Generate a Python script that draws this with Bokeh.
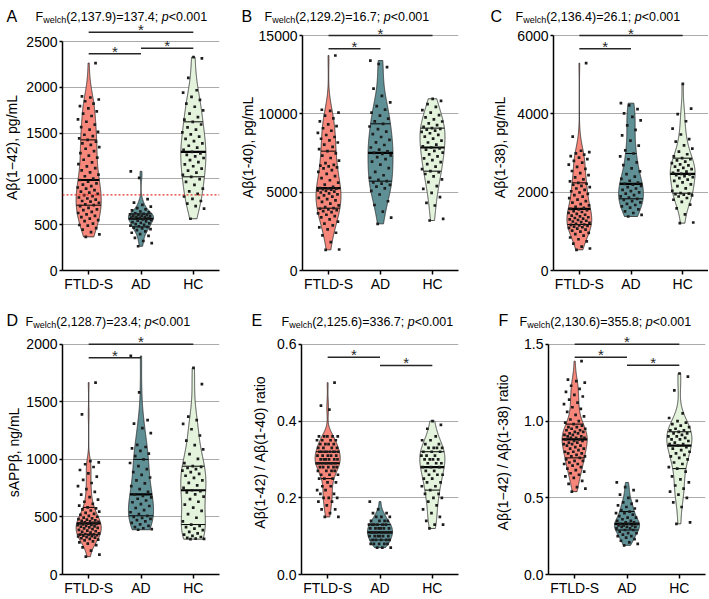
import numpy as np
from bokeh.plotting import figure
from bokeh.models import Span, FixedTicker, Range1d, NumeralTickFormatter
from bokeh.layouts import column, row
from bokeh.embed import file_html
from bokeh.resources import INLINE
from bokeh.core.properties import value

FONT = "Liberation Sans"
GROUPS = ["FTLD-S", "AD", "HC"]
GROUP_COLORS = ["#F7877B", "#5F9096", "#E3F3DC"]

# ---------------- Panel A: Abeta(1-42), pg/mL ----------------
A_FTLD = [367, 395, 418, 446, 462, 489, 497, 512, 538, 551, 566, 583, 597, 612, 628, 641, 659, 668, 684, 702, 713,
          722, 738, 751, 759, 774, 786, 797, 812, 823, 836, 851, 862, 877, 893, 906, 921, 937, 952, 969, 988,
          1004, 1029, 1046, 1071, 1093, 1118, 1137, 1162, 1181, 1209, 1232, 1254, 1281, 1303, 1329, 1348, 1371, 1389, 1407, 1426,
          1443, 1468, 1482, 1513, 1537, 1566, 1592, 1624, 1651, 1687, 1712, 1738, 1769, 1794, 1822, 1848, 1867, 1889, 1902, 2265]
A_AD = [265, 298, 322, 356, 379, 398, 412, 428, 441, 452, 461, 469, 476,
        483, 491, 499, 506, 514, 521, 528, 536, 543, 551, 558, 565,
        569, 574, 578, 583, 587, 591, 596, 600, 605, 609, 613, 618,
        625, 634, 644, 656, 668, 681, 697, 716, 742, 779, 1012, 1083]
A_HC = [565, 676, 702, 731, 759, 781, 808, 836, 864, 893, 934, 968, 997, 1023,
        1044, 1069, 1091, 1112, 1138, 1159, 1183, 1204, 1228, 1247, 1262, 1279, 1295,
        1318, 1341, 1362, 1389, 1412, 1438, 1461, 1486, 1509, 1537, 1562, 1594, 1623,
        1648, 1675, 1712, 1749, 1788, 1822, 1863, 1895, 1942, 1968, 2104, 2316, 2329]
A_YTICKS = [0, 500, 1000, 1500, 2000, 2500]
A_SIG_FROM = [1, 1, 2]
A_SIG_TO = [3, 2, 3]
A_SIG_Y = [2600, 2366, 2426]
A_CUTOFF = 825
A_STAT = "(2,137.9)=137.4; "
A_YLABEL = "A\u03b2(1\u221242), pg/mL"

# ---------------- Panel B: Abeta(1-40), pg/mL ----------------
B_FTLD = [1319, 1342, 1810, 2240, 2410, 2620, 2750, 2880, 2990, 3120, 3260, 3390, 3470, 3560, 3640, 3720, 3790, 3850, 3900, 3940, 3979,
          4050, 4160, 4270, 4380, 4470, 4560, 4640, 4720, 4790, 4860, 4920, 4980, 5030, 5080, 5120, 5160, 5190, 5220, 5240, 5256,
          5340, 5480, 5610, 5760, 5890, 6030, 6170, 6290, 6410, 6520, 6580, 6640, 6690, 6740, 6860, 7010, 7180, 7330, 7470, 7618,
          7750, 7890, 8030, 8170, 8300, 8410, 8520, 8650, 8790, 8920, 9080, 9210, 9330, 9520, 9710, 9890, 10080, 10190, 10260, 13725]
B_AD = [2979, 3380, 3760, 4180, 4420, 4850, 5080, 5240, 5360, 5460, 5550, 5630, 5703,
        5790, 5920, 6080, 6290, 6530, 6760, 6950, 7110, 7240, 7350, 7440, 7512,
        7600, 7720, 7850, 8010, 8180, 8340, 8520, 8700, 8860, 9020, 9190, 9363,
        9520, 9700, 9890, 10080, 10270, 10490, 10730, 11140, 11610, 12980, 13180, 13400]
B_HC = [3192, 3298, 4150, 4320, 4682, 4950, 5213, 5390, 5639, 5820, 6010, 6160, 6270, 6341,
        6470, 6630, 6790, 6920, 7040, 7160, 7290, 7410, 7520, 7630, 7710, 7790, 7852,
        7930, 8040, 8170, 8290, 8420, 8540, 8660, 8760, 8850, 8930, 8990, 9040, 9087,
        9170, 9280, 9390, 9510, 9640, 9780, 9920, 10080, 10240, 10450, 10620, 10830, 10960]
B_YTICKS = [0, 5000, 10000, 15000]
B_SIG_FROM = [1, 1]
B_SIG_TO = [3, 2]
B_SIG_Y = [15000, 14150]
B_STAT = "(2,129.2)=16.7; "
B_YLABEL = "A\u03b2(1-40), pg/mL"

# ---------------- Panel C: Abeta(1-38), pg/mL ----------------
C_FTLD = [528, 562, 611, 688, 742, 798, 842, 889, 928, 962, 991, 1018, 1043, 1069, 1088, 1104, 1121, 1137, 1150, 1163, 1174,
          1192, 1214, 1233, 1251, 1270, 1289, 1306, 1323, 1341, 1360, 1381, 1402, 1423, 1446, 1470, 1494, 1517, 1538, 1557, 1574,
          1598, 1628, 1661, 1697, 1732, 1770, 1808, 1846, 1884, 1922, 1958, 1991, 2024, 2058, 2093, 2127, 2160, 2189, 2215, 2238,
          2276, 2328, 2379, 2433, 2488, 2540, 2596, 2648, 2701, 2752, 2798, 2842, 2881, 2922, 2958, 2990, 3024, 3058, 3420, 5294]
C_AD = [1379, 1420, 1468, 1512, 1561, 1604, 1638, 1672, 1703, 1741, 1772, 1804, 1830,
        1862, 1893, 1927, 1961, 1996, 2028, 2061, 2094, 2128, 2160, 2189, 2213,
        2246, 2292, 2341, 2398, 2462, 2531, 2608, 2690, 2762, 2841, 2912, 2987,
        3068, 3190, 3318, 3452, 3590, 3706, 3832, 3921, 4012, 4118, 4215, 4272]
C_HC = [1209, 1226, 1432, 1588, 1684, 1752, 1806, 1851, 1889, 1916, 1938, 1952, 1964, 1975,
        2034, 2096, 2152, 2201, 2248, 2286, 2321, 2356, 2385, 2412, 2436, 2454, 2468,
        2492, 2524, 2558, 2590, 2622, 2651, 2683, 2712, 2744, 2778, 2810, 2840, 2868,
        2912, 2968, 3035, 3110, 3196, 3288, 3356, 3472, 3620, 3811, 3992, 4131, 4766]
C_YTICKS = [0, 2000, 4000, 6000]
C_SIG_FROM = [1, 1]
C_SIG_TO = [3, 2]
C_SIG_Y = [6000, 5660]
C_STAT = "(2,136.4)=26.1; "
C_YLABEL = "A\u03b2(1-38), pg/mL"

# ---------------- Panel D: sAPPbeta, ng/mL ----------------
D_FTLD = [155, 172, 208, 236, 255, 268, 279, 288, 296, 303, 309, 315, 320, 325, 330, 334, 338, 341, 344, 347, 349,
          352, 358, 364, 370, 376, 382, 388, 394, 400, 405, 410, 415, 419, 423, 428, 432, 436, 439, 442, 445,
          449, 453, 457, 461, 466, 471, 476, 481, 487, 494, 502, 510, 518, 527, 536, 546, 556, 566, 575, 583,
          598, 614, 632, 651, 672, 694, 718, 742, 768, 795, 822, 851, 878, 908, 934, 958, 975, 986, 1392, 1668]
D_AD = [389, 394, 402, 411, 423, 436, 449, 461, 472, 483, 492, 501, 510,
        524, 541, 560, 578, 595, 612, 628, 643, 658, 671, 684, 696,
        718, 742, 768, 792, 818, 843, 866, 889, 915, 942, 969, 1000,
        1028, 1051, 1074, 1096, 1108, 1126, 1228, 1272, 1311, 1342, 1583, 1899]
D_HC = [307, 309, 312, 318, 326, 335, 346, 358, 371, 385, 398, 411, 423, 434,
        462, 493, 524, 553, 581, 607, 632, 655, 677, 697, 714, 724, 732,
        752, 774, 797, 818, 839, 858, 874, 889, 902, 915, 927, 936, 941,
        968, 1004, 1046, 1087, 1124, 1163, 1208, 1262, 1308, 1341, 1372, 1655, 1795]
D_YTICKS = [0, 500, 1000, 1500, 2000]
D_SIG_FROM = [1, 1]
D_SIG_TO = [3, 2]
D_SIG_Y = [2000, 1884]
D_STAT = "(2,128.7)=23.4; "
D_YLABEL = "sAPP\u03b2, ng/mL"

# ---------------- Panel E: Abeta42/40 ratio ----------------
E_FTLD = [0.15, 0.15, 0.16, 0.17, 0.17, 0.18, 0.19, 0.19, 0.20, 0.20, 0.20, 0.21, 0.21, 0.22, 0.22, 0.23, 0.23, 0.24, 0.24, 0.25, 0.25,
          0.25, 0.26, 0.26, 0.26, 0.27, 0.27, 0.27, 0.27, 0.28, 0.28, 0.28, 0.28, 0.28, 0.29, 0.29, 0.29, 0.29, 0.29, 0.29, 0.29,
          0.29, 0.30, 0.30, 0.30, 0.30, 0.30, 0.30, 0.31, 0.31, 0.31, 0.31, 0.31, 0.32, 0.32, 0.32, 0.32, 0.32, 0.32, 0.32, 0.32,
          0.33, 0.33, 0.33, 0.33, 0.34, 0.34, 0.34, 0.34, 0.35, 0.35, 0.35, 0.35, 0.36, 0.36, 0.36, 0.36, 0.36, 0.43, 0.44, 0.50]
E_AD = [0.07, 0.07, 0.07, 0.08, 0.08, 0.08, 0.08, 0.08, 0.09, 0.09, 0.09, 0.09, 0.09,
        0.10, 0.10, 0.10, 0.10, 0.10, 0.10, 0.11, 0.11, 0.11, 0.11, 0.11, 0.11,
        0.11, 0.12, 0.12, 0.12, 0.12, 0.12, 0.12, 0.13, 0.13, 0.13, 0.13, 0.13,
        0.13, 0.14, 0.14, 0.14, 0.14, 0.15, 0.15, 0.15, 0.16, 0.16, 0.17, 0.19]
E_HC = [0.12, 0.13, 0.13, 0.14, 0.15, 0.16, 0.17, 0.18, 0.19, 0.20, 0.20, 0.21, 0.21, 0.22,
        0.23, 0.23, 0.24, 0.24, 0.25, 0.25, 0.26, 0.26, 0.26, 0.27, 0.27, 0.28, 0.28,
        0.28, 0.29, 0.29, 0.29, 0.30, 0.30, 0.30, 0.30, 0.31, 0.31, 0.31, 0.32, 0.32,
        0.32, 0.33, 0.33, 0.33, 0.33, 0.34, 0.34, 0.35, 0.35, 0.36, 0.38, 0.39, 0.40]
E_YTICKS = [0.0, 0.2, 0.4, 0.6]
E_SIG_FROM = [1, 2]
E_SIG_TO = [2, 3]
E_SIG_Y = [0.566, 0.545]
E_STAT = "(2,125.6)=336.7; "
E_YLABEL = "A\u03b2(1-42) / A\u03b2(1-40) ratio"

# ---------------- Panel F: Abeta42/38 ratio ----------------
F_FTLD = [0.54, 0.56, 0.57, 0.59, 0.61, 0.63, 0.64, 0.65, 0.66, 0.67, 0.68, 0.69, 0.70, 0.71, 0.72, 0.72, 0.73, 0.74, 0.74, 0.75, 0.76,
          0.77, 0.77, 0.78, 0.79, 0.79, 0.80, 0.80, 0.81, 0.82, 0.82, 0.83, 0.84, 0.84, 0.85, 0.85, 0.86, 0.86, 0.87, 0.87, 0.88,
          0.88, 0.89, 0.89, 0.89, 0.90, 0.90, 0.91, 0.91, 0.92, 0.92, 0.93, 0.93, 0.94, 0.94, 0.95, 0.95, 0.96, 0.96, 0.97, 0.98,
          0.99, 1.00, 1.01, 1.03, 1.04, 1.06, 1.08, 1.09, 1.11, 1.12, 1.14, 1.16, 1.17, 1.19, 1.21, 1.23, 1.25, 1.26, 1.27, 1.39]
F_AD = [0.19, 0.20, 0.21, 0.22, 0.23, 0.24, 0.25, 0.25, 0.26, 0.27, 0.27, 0.28, 0.29,
        0.29, 0.30, 0.30, 0.31, 0.31, 0.31, 0.32, 0.32, 0.32, 0.33, 0.33, 0.33,
        0.34, 0.34, 0.35, 0.35, 0.36, 0.37, 0.37, 0.38, 0.39, 0.40, 0.40, 0.41,
        0.42, 0.43, 0.44, 0.45, 0.46, 0.47, 0.48, 0.50, 0.52, 0.55, 0.57, 0.60]
F_HC = [0.33, 0.34, 0.44, 0.47, 0.50, 0.52, 0.54, 0.56, 0.58, 0.60, 0.62, 0.64, 0.67, 0.69,
        0.70, 0.72, 0.73, 0.75, 0.76, 0.77, 0.78, 0.79, 0.80, 0.81, 0.82, 0.83, 0.84,
        0.85, 0.85, 0.86, 0.87, 0.88, 0.88, 0.89, 0.90, 0.90, 0.91, 0.92, 0.92, 0.93,
        0.94, 0.94, 0.95, 0.96, 0.97, 0.98, 0.99, 1.00, 1.02, 1.05, 1.20, 1.29, 1.31]
F_YTICKS = [0.0, 0.5, 1.0, 1.5]
F_SIG_FROM = [1, 1, 2]
F_SIG_TO = [3, 2, 3]
F_SIG_Y = [1.5, 1.415, 1.364]
F_STAT = "(2,130.6)=355.8; "
F_YLABEL = "A\u03b2(1\u221242) / A\u03b2(1-38) ratio"

# ---------------- layout (page pixel geometry, styles) ----------------
COLS = [dict(px=0, w=236), dict(px=236, w=234), dict(px=470, w=238)]
# title strip and plot area for each row (page pixels)
ROWS = [dict(tpy=0, th=24, py=24, h=276, letter=15.5, stat=16.5),
        dict(tpy=300, th=29, py=329, h=269, letter=320.0, stat=321.5)]

PANELS = [
    dict(letter="A", data=[A_FTLD, A_AD, A_HC], ticks=A_YTICKS, sf=A_SIG_FROM, st=A_SIG_TO, sy=A_SIG_Y,
         stat=A_STAT, ylabel=A_YLABEL, cutoff=A_CUTOFF, fmt=None,
         col=0, row=0, bl=62, fw=157, bt=0, bb=23, span=235.5, lstand=3, letter_x=6, stat_x=35),
    dict(letter="B", data=[B_FTLD, B_AD, B_HC], ticks=B_YTICKS, sf=B_SIG_FROM, st=B_SIG_TO, sy=B_SIG_Y,
         stat=B_STAT, ylabel=B_YLABEL, cutoff=None, fmt=None,
         col=1, row=0, bl=65, fw=157, bt=0, bb=30, span=235, lstand=0, letter_x=241, stat_x=264),
    dict(letter="C", data=[C_FTLD, C_AD, C_HC], ticks=C_YTICKS, sf=C_SIG_FROM, st=C_SIG_TO, sy=C_SIG_Y,
         stat=C_STAT, ylabel=C_YLABEL, cutoff=None, fmt=None,
         col=2, row=0, bl=83, fw=155, bt=0, bb=30, span=235, lstand=6, letter_x=490, stat_x=515),
    dict(letter="D", data=[D_FTLD, D_AD, D_HC], ticks=D_YTICKS, sf=D_SIG_FROM, st=D_SIG_TO, sy=D_SIG_Y,
         stat=D_STAT, ylabel=D_YLABEL, cutoff=None, fmt=None,
         col=0, row=1, bl=62, fw=157, bt=1, bb=21, span=233, lstand=1, letter_x=6, stat_x=25),
    dict(letter="E", data=[E_FTLD, E_AD, E_HC], ticks=E_YTICKS, sf=E_SIG_FROM, st=E_SIG_TO, sy=E_SIG_Y,
         stat=E_STAT, ylabel=E_YLABEL, cutoff=None, fmt="0.0",
         col=1, row=1, bl=65, fw=157, bt=1, bb=21, span=233, lstand=6, letter_x=251, stat_x=281),
    dict(letter="F", data=[F_FTLD, F_AD, F_HC], ticks=F_YTICKS, sf=F_SIG_FROM, st=F_SIG_TO, sy=F_SIG_Y,
         stat=F_STAT, ylabel=F_YLABEL, cutoff=None, fmt="0.0",
         col=2, row=1, bl=78, fw=157, bt=1, bb=21, span=233, lstand=10, letter_x=498, stat_x=519),
]

VIOLIN_HALF = 0.24
POINT_SPREAD = 0.21
BW_SCALE = 1.0

ARIAL = {'(': 333, ')': 333, ',': 278, '.': 278, '=': 584, ';': 278, ' ': 278, '<': 584,
         'F': 611, 'p': 556, 'w': 722, 'e': 556, 'l': 222, 'c': 500, 'h': 556}


def text_w(s, size):
    return sum(ARIAL.get(ch, 556) for ch in s) * size / 1000.0


def profile(vals):
    v = np.asarray(vals, float)
    n = len(v)
    sd = v.std(ddof=1)
    iqr = np.subtract(*np.percentile(v, [75, 25]))
    h = 0.9 * min(sd, iqr / 1.34 if iqr > 0 else sd) * n ** -0.2 * BW_SCALE
    grid = np.linspace(v.min(), v.max(), 260)
    d = np.exp(-0.5 * ((grid[:, None] - v[None, :]) / h) ** 2).sum(axis=1)
    return grid, d / d.max() * VIOLIN_HALF


def make_title(P):
    col = COLS[P["col"]]
    rw = ROWS[P["row"]]
    w, h = col["w"], rw["th"]
    t = figure(width=w, height=h, x_range=Range1d(0, w), y_range=Range1d(0, h),
               output_backend="svg", toolbar_location=None, tools="",
               x_axis_location=None, y_axis_location=None, min_border=0)
    t.outline_line_color = None
    t.grid.visible = False
    t.background_fill_color = "white"
    t.border_fill_color = "white"

    def ty(page_y):
        return rw["tpy"] + h - page_y

    t.text(x=[P["letter_x"] - col["px"]], y=[ty(rw["letter"])], text=[P["letter"]],
           text_font=value(FONT), text_font_size="16px", text_baseline="alphabetic",
           text_align="left", text_color="black")
    fs, ss = 12.5, 9.0
    x = P["stat_x"] - col["px"]
    pieces = [("F", fs, "normal", 0), ("welch", ss, "normal", 2.5), (P["stat"], fs, "normal", 0),
              ("p", fs, "italic", 0), ("<0.001", fs, "normal", 0)]
    for txt, size, style, drop in pieces:
        t.text(x=[x], y=[ty(rw["stat"] + drop)], text=[txt], text_font=value(FONT),
               text_font_size=f"{size}px", text_font_style=style, text_baseline="alphabetic",
               text_align="left", text_color="black")
        x += text_w(txt, size)
    return t


def make_panel(P):
    col = COLS[P["col"]]
    rw = ROWS[P["row"]]
    top_tick = P["ticks"][-1]
    frame_h = rw["h"] - P["bt"] - P["bb"]
    y_end = top_tick * frame_h / P["span"]
    br = col["w"] - P["bl"] - P["fw"]

    p = figure(width=col["w"], height=rw["h"], x_range=Range1d(0.5, 3.5), y_range=Range1d(0, y_end),
               output_backend="svg", toolbar_location=None, tools="",
               min_border_left=P["bl"], min_border_right=br, min_border_top=P["bt"], min_border_bottom=P["bb"])
    p.outline_line_color = None
    p.background_fill_color = "white"
    p.border_fill_color = "white"
    p.xgrid.visible = False
    p.ygrid.ticker = FixedTicker(ticks=P["ticks"])
    p.ygrid.grid_line_color = "#ABABAB"
    p.ygrid.grid_line_width = 1

    p.yaxis.ticker = FixedTicker(ticks=P["ticks"])
    if P["fmt"]:
        p.yaxis.formatter = NumeralTickFormatter(format=P["fmt"])
    p.yaxis.bounds = (0, top_tick)
    p.xaxis.ticker = FixedTicker(ticks=[1, 2, 3])
    p.xaxis.major_label_overrides = {i + 1: g for i, g in enumerate(GROUPS)}
    for ax in (p.xaxis, p.yaxis):
        ax.axis_line_color = "black"
        ax.axis_line_width = 1.5
        ax.major_tick_line_color = "black"
        ax.major_tick_line_width = 1.5
        ax.major_tick_in = 0
        ax.minor_tick_line_color = None
        ax.major_label_text_font = FONT
        ax.major_label_text_font_size = "14px"
        ax.major_label_text_color = "black"
    p.xaxis.major_tick_out = 4
    p.xaxis.major_label_standoff = 1
    p.yaxis.major_tick_out = 3
    p.yaxis.major_label_standoff = 2
    p.yaxis.axis_label = P["ylabel"]
    p.yaxis.axis_label_text_font = FONT
    p.yaxis.axis_label_text_font_size = "14px"
    p.yaxis.axis_label_text_font_style = "normal"
    p.yaxis.axis_label_text_color = "black"
    p.yaxis.axis_label_standoff = P["lstand"]

    if P["cutoff"] is not None:
        p.add_layout(Span(location=P["cutoff"], dimension="width", line_color="#E5332A",
                          line_dash="2 2", line_width=1.2))

    for gi, vals in enumerate(P["data"]):
        c = gi + 1
        grid, hw = profile(vals)
        xs = np.concatenate([c + hw, (c - hw)[::-1]])
        ys = np.concatenate([grid, grid[::-1]])
        p.patch(xs, ys, fill_color=GROUP_COLORS[gi], line_color="#2a2a2a", line_width=0.8)
        q1, med, q3 = np.percentile(np.asarray(vals, float), [25, 50, 75])
        for q, lw in ((q1, 1.0), (q3, 1.0), (med, 2.2)):
            w = float(np.interp(q, grid, hw))
            p.segment(x0=[c - w], x1=[c + w], y0=[q], y1=[q], line_color="black", line_width=lw)
        v = np.asarray(vals, float)
        order = np.argsort(v, kind="stable")
        offs = np.empty(len(v))
        k = np.arange(len(v))
        offs[order] = ((k * 0.618034 + 0.37) % 1.0 - 0.5) * 2 * POINT_SPREAD
        p.scatter(c + offs, v, marker="square", size=2.7, color="#1c1c1c", line_width=0)

    xm = [(a + b) / 2 for a, b in zip(P["sf"], P["st"])]
    p.segment(x0=P["sf"], x1=P["st"], y0=P["sy"], y1=P["sy"], line_color="#262626", line_width=1.5)
    p.text(x=xm, y=P["sy"], text=["*"] * len(xm), text_font=value(FONT), text_font_size="15px",
           text_align="center", text_baseline="middle", y_offset=-2.5, text_color="#262626")
    return p


titles = [make_title(P) for P in PANELS]
plots = [make_panel(P) for P in PANELS]
layout = column(
    row(*titles[0:3], spacing=0),
    row(*plots[0:3], spacing=0),
    row(*titles[3:6], spacing=0),
    row(*plots[3:6], spacing=0),
    spacing=0,
)
open("out.html", "w").write(file_html(layout, INLINE))
